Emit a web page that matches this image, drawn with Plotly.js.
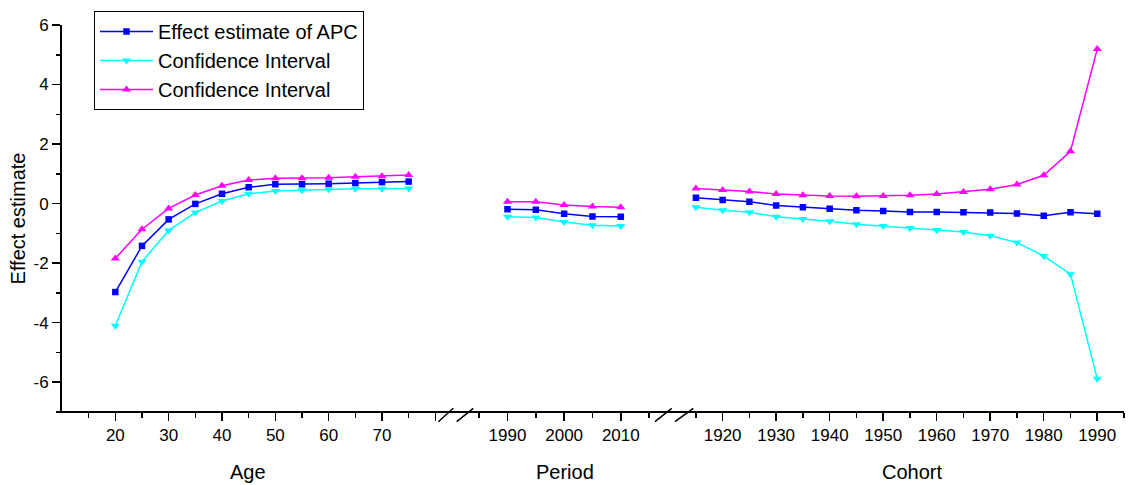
<!DOCTYPE html>
<html>
<head>
<meta charset="utf-8">
<script src="https://cdn.plot.ly/plotly-3.0.1.min.js"></script>
<style>html,body{margin:0;padding:0;background:#fff;}#chart{width:1128px;height:485px;}</style>
</head>
<body>
<div id="chart"></div>
<script>
// ---- data ----
const ages = [20, 25, 30, 35, 40, 45, 50, 55, 60, 65, 70, 75];
const ageEstimate = [-2.97, -1.42, -0.53, -0.01, 0.33, 0.55, 0.65, 0.65, 0.67, 0.69, 0.72, 0.74];
const ageLower = [-4.10, -1.95, -0.90, -0.30, 0.09, 0.33, 0.42, 0.45, 0.48, 0.50, 0.50, 0.51];
const ageUpper = [-1.84, -0.86, -0.16, 0.29, 0.60, 0.79, 0.85, 0.85, 0.87, 0.90, 0.92, 0.96];

const periods = [1990, 1995, 2000, 2005, 2010];
const periodEstimate = [-0.19, -0.21, -0.34, -0.43, -0.44];
const periodLower = [-0.44, -0.47, -0.62, -0.73, -0.75];
const periodUpper = [0.065, 0.065, -0.05, -0.10, -0.12];

const cohorts = [1915, 1920, 1925, 1930, 1935, 1940, 1945, 1950, 1955, 1960, 1965, 1970, 1975, 1980, 1985, 1990];
const cohortEstimate = [0.20, 0.12, 0.06, -0.06, -0.12, -0.17, -0.22, -0.25, -0.28, -0.28, -0.29, -0.30, -0.33, -0.41, -0.29, -0.34];
const cohortLower = [-0.12, -0.22, -0.29, -0.44, -0.52, -0.59, -0.69, -0.75, -0.82, -0.89, -0.95, -1.08, -1.31, -1.76, -2.37, -5.88];
const cohortUpper = [0.51, 0.46, 0.41, 0.32, 0.28, 0.26, 0.25, 0.26, 0.28, 0.32, 0.39, 0.48, 0.64, 0.95, 1.76, 5.19];

const seriesNames = ['Effect estimate of APC', 'Confidence Interval', 'Confidence Interval'];

const yTickVals = [-6, -4, -2, 0, 2, 4, 6];
const yTickText = ['-6', '-4', '-2', '0', '2', '4', '6'];
const ageTickVals = [20, 30, 40, 50, 60, 70, 80];
const ageTickText = ['20', '30', '40', '50', '60', '70', ''];
const ageMinorVals = [15, 25, 35, 45, 55, 65, 75];
const periodTickVals = [1990, 2000, 2010];
const periodTickText = ['1990', '2000', '2010'];
const periodMinorVals = [1985, 1995, 2005, 2015];
const cohortTickVals = [1920, 1930, 1940, 1950, 1960, 1970, 1980, 1990];
const cohortTickText = ['1920', '1930', '1940', '1950', '1960', '1970', '1980', '1990'];
const cohortMinorVals = [1915, 1925, 1935, 1945, 1955, 1965, 1975, 1985, 1995];

const axisTitles = ['Age', 'Period', 'Cohort'];

// ---- styles ----
const FONT = '"Liberation Sans", Arial, sans-serif';
const styles = [
  {color: '#0000FF', symbol: 'square', size: 6.5},
  {color: '#00FFFF', symbol: 'triangle-down', size: 8},
  {color: '#FF00FF', symbol: 'triangle-up', size: 8}
];

const W = 1128, H = 485, ML = 62, MR = 4, MT = 25, MB = 73;
const PW = W - ML - MR, PH = H - MT - MB;
const px = x => (x - ML) / PW;
const py = y => (H - MB - y) / PH;

const panels = [
  {x: ages, ys: [ageEstimate, ageLower, ageUpper], xa: 'x'},
  {x: periods, ys: [periodEstimate, periodLower, periodUpper], xa: 'x2'},
  {x: cohorts, ys: [cohortEstimate, cohortLower, cohortUpper], xa: 'x3'}
];

const traces = [];
for (let s = 0; s < 3; s++) {
  panels.forEach((p, i) => {
    traces.push({
      type: 'scatter', mode: 'lines+markers',
      x: p.x, y: p.ys[s], xaxis: p.xa, yaxis: 'y',
      name: seriesNames[s], legendgroup: 'g' + s, showlegend: i === 0,
      line: {color: styles[s].color, width: 1.5},
      marker: {color: styles[s].color, symbol: styles[s].symbol, size: styles[s].size}
    });
  });
}

function xAxis(domain, range, tickvals, ticktext, minorVals) {
  return {
    domain: domain, range: range, anchor: 'y',
    tickmode: 'array', tickvals: tickvals, ticktext: ticktext,
    ticks: 'outside', ticklen: 8, tickwidth: 1.5, tickcolor: '#000',
    minor: {tickmode: 'array', tickvals: minorVals, ticks: 'outside', ticklen: 5, tickwidth: 1.5, tickcolor: '#000'},
    showline: false, showgrid: false, zeroline: false,
    tickfont: {family: FONT, size: 17, color: '#000'}
  };
}

const slash = (x0, y0, x1, y1) => ({
  type: 'line', xref: 'paper', yref: 'paper',
  x0: px(x0), y0: py(y0), x1: px(x1), y1: py(y1),
  line: {color: '#000', width: 1.5}
});

const layout = {
  width: W, height: H,
  margin: {l: ML, r: MR, t: MT, b: MB},
  paper_bgcolor: '#fff', plot_bgcolor: '#fff',
  font: {family: FONT, color: '#000'},
  showlegend: true,
  legend: {
    x: px(94), y: py(11), xanchor: 'left', yanchor: 'top',
    bgcolor: '#fff', bordercolor: '#000', borderwidth: 1,
    font: {family: FONT, size: 20, color: '#000'},
    itemwidth: 53, tracegroupgap: 0
  },
  yaxis: {
    range: [-7, 6], anchor: 'x', domain: [0, 1],
    tickmode: 'array', tickvals: yTickVals, ticktext: yTickText,
    ticks: 'outside', ticklen: 8, tickwidth: 1.5, tickcolor: '#000',
    minor: {dtick: 1, tick0: 0, ticks: 'outside', ticklen: 4, tickwidth: 1.5, tickcolor: '#000'},
    showline: true, linewidth: 2, linecolor: '#000',
    showgrid: false, zeroline: false,
    tickfont: {family: FONT, size: 17, color: '#000'},
    title: {text: 'Effect estimate', font: {family: FONT, size: 20, color: '#000'}, standoff: 2}
  },
  xaxis: xAxis([0, px(446)], [10, 82], ageTickVals, ageTickText, ageMinorVals),
  xaxis2: xAxis([px(465), px(663.3)], [1982.5, 2017.5], periodTickVals, periodTickText, periodMinorVals),
  xaxis3: xAxis([px(682.5), 1], [1912.5, 1995], cohortTickVals, cohortTickText, cohortMinorVals),
  shapes: [
    {type: 'line', xref: 'paper', yref: 'paper', x0: px(58), x1: 1, y0: 0, y1: 0, line: {color: '#000', width: 2}},
    slash(438.3, 421.7, 453.3, 408.3),
    slash(456.7, 421.7, 473.3, 408.3),
    slash(655, 421.7, 671.7, 408.3),
    slash(675, 421.7, 693.3, 408.3)
  ],
  annotations: [
    {text: axisTitles[0], xref: 'paper', yref: 'paper', x: px(247.7), y: py(472), xanchor: 'center', yanchor: 'middle', showarrow: false, font: {family: FONT, size: 20, color: '#000'}},
    {text: axisTitles[1], xref: 'paper', yref: 'paper', x: px(565), y: py(472), xanchor: 'center', yanchor: 'middle', showarrow: false, font: {family: FONT, size: 20, color: '#000'}},
    {text: axisTitles[2], xref: 'paper', yref: 'paper', x: px(912), y: py(472), xanchor: 'center', yanchor: 'middle', showarrow: false, font: {family: FONT, size: 20, color: '#000'}}
  ]
};

Plotly.newPlot('chart', traces, layout, {displayModeBar: false, staticPlot: true});
</script>
</body>
</html>
